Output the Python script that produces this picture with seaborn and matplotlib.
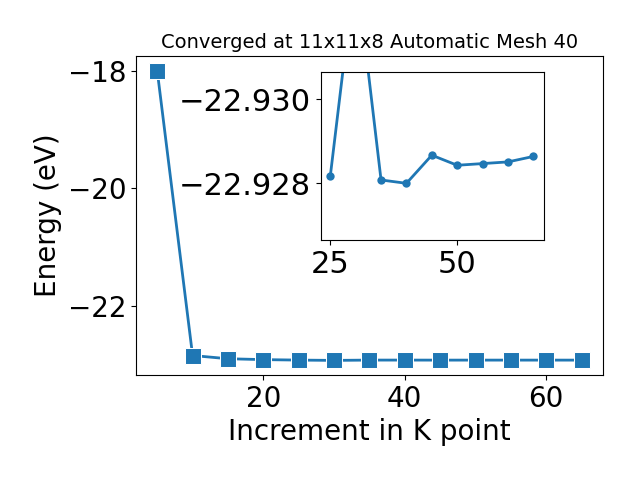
import matplotlib
matplotlib.use("Agg")
import matplotlib.pyplot as plt
import seaborn as sns

# K point convergence data
kpoints = [5, 10, 15, 20, 25, 30, 35, 40, 45, 50, 55, 60, 65]
energy = [-18.0, -22.85, -22.905, -22.92, -22.92817, -22.9332, -22.92808,
          -22.92800, -22.92867, -22.92843, -22.92847, -22.92851, -22.92864]

fig = plt.figure(figsize=(6.4, 4.8), dpi=100)
ax = fig.add_axes([0.2125, 0.219, 0.7295, 0.664])
sns.lineplot(x=kpoints, y=energy, marker='s', markersize=11, linewidth=2, ax=ax)
ax.set_xlabel('Increment in K point', fontsize=20)
ax.set_ylabel('Energy (eV)', fontsize=20)
ax.set_title('Converged at 11x11x8 Automatic Mesh 40', fontsize=14)
ax.tick_params(labelsize=20)

# inset zoomed on the flat part (from 25 on)
axin = fig.add_axes([0.501, 0.5, 0.349, 0.349])
sns.lineplot(x=kpoints[4:], y=energy[4:], marker='o', markersize=6,
             markeredgewidth=0, linewidth=2, ax=axin)
axin.set_xlim(23.1, 67.1)
axin.set_ylim(-22.92665, -22.93064)
axin.set_yticks([-22.930, -22.928])
axin.set_xticks([25, 50])
axin.ticklabel_format(useOffset=False)
axin.tick_params(labelsize=22)

plt.savefig('out.png', dpi=100)
